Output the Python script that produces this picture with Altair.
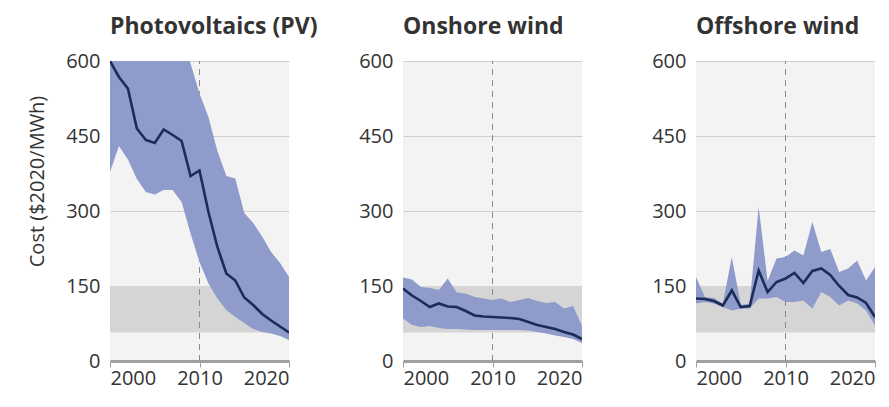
import altair as alt
import pandas as pd

YEARS = list(range(2000, 2021))
TITLES = ["Photovoltaics (PV)", "Onshore wind", "Offshore wind"]

PV_MID = [600, 568, 545, 465, 442, 436, 463, 452, 440, 370, 381, 298, 228, 175, 161, 127, 112, 94, 81, 69, 57]
PV_LOW = [378, 430, 403, 364, 338, 333, 342, 342, 318, 255, 198, 155, 125, 102, 88, 76, 64, 58, 55, 50, 42]
PV_HIGH = [700, 700, 700, 700, 700, 700, 700, 700, 645, 595, 535, 488, 420, 370, 365, 296, 276, 249, 218, 196, 168]

ON_MID = [145, 131, 120, 108, 115, 109, 108, 100, 91, 89, 88, 87, 86, 84, 78, 72, 68, 64, 58, 53, 44]
ON_LOW = [85, 72, 68, 70, 66, 64, 64, 63, 62, 62, 62, 62, 62, 62, 61, 58, 55, 51, 48, 44, 36]
ON_HIGH = [167, 163, 148, 146, 142, 165, 137, 135, 128, 125, 122, 125, 118, 122, 126, 120, 116, 118, 105, 110, 70]

OFF_MID = [125, 124, 120, 111, 141, 108, 110, 181, 138, 158, 165, 176, 156, 180, 185, 172, 150, 132, 127, 116, 88]
OFF_LOW = [115, 118, 115, 108, 101, 105, 105, 125, 125, 128, 118, 118, 121, 105, 138, 128, 111, 121, 115, 101, 71]
OFF_HIGH = [168, 128, 126, 115, 208, 112, 115, 308, 160, 205, 208, 221, 211, 278, 218, 224, 178, 185, 201, 161, 188]

BAND_RANGE = [57, 150]          # grey reference band
DIVIDER_YEAR = 2010
Y_TICKS = [0, 150, 300, 450, 600]
X_TICKS = [2000, 2010, 2020]
Y_TITLE = "Cost ($2020/MWh)"

BLUE = "#8e9bcb"
NAVY = "#1b2c58"
BAND_GREY = "#d5d5d5"
BG = "#f3f3f3"
TEXT = "#333333"
FONT = "Open Sans"


def panel(name, mid, low, high, first):
    df = pd.DataFrame({"year": YEARS, "mid": mid, "low": low, "high": high})
    band = pd.DataFrame({"x": [YEARS[0]], "x2": [YEARS[-1]],
                         "y": [BAND_RANGE[0]], "y2": [BAND_RANGE[1]]})
    rule = pd.DataFrame({"x": [DIVIDER_YEAR], "y": [Y_TICKS[0]], "y2": [Y_TICKS[-1]]})

    xscale = alt.Scale(domain=[YEARS[0], YEARS[-1]], nice=False, zero=False)
    yscale = alt.Scale(domain=[Y_TICKS[0], Y_TICKS[-1]], nice=False)
    xaxis = alt.Axis(values=X_TICKS, format="d", labelFlush=True, grid=False,
                     domainColor="#a0a0a0", domainWidth=3, tickColor="#a0a0a0",
                     tickSize=6, tickWidth=1, labelPadding=1, title=None)
    yaxis = alt.Axis(values=Y_TICKS, grid=True, gridColor="#cfcfcf", gridWidth=1,
                     domain=False, ticks=False, labelPadding=10,
                     title=Y_TITLE if first else None, titlePadding=18, titleY=120)

    x_enc = lambda f: alt.X(f, scale=xscale, axis=xaxis)
    y_enc = lambda f: alt.Y(f, scale=yscale, axis=yaxis)

    band_layer = alt.Chart(band).mark_rect(color=BAND_GREY).encode(
        x=x_enc("x:Q"), x2="x2:Q", y=y_enc("y:Q"), y2="y2:Q")
    rule_layer = alt.Chart(rule).mark_rule(color="#8a8a8a", strokeDash=[6, 5], strokeWidth=1).encode(
        x=x_enc("x:Q"), y=y_enc("y:Q"), y2="y2:Q")
    area_layer = alt.Chart(df).mark_area(color=BLUE, opacity=1, clip=True).encode(
        x=x_enc("year:Q"), y=y_enc("low:Q"), y2="high:Q")
    line_layer = alt.Chart(df).mark_line(color=NAVY, strokeWidth=2.6, clip=True).encode(
        x=x_enc("year:Q"), y=y_enc("mid:Q"))

    return alt.layer(band_layer, rule_layer, area_layer, line_layer).properties(
        width=179, height=300,
        title=alt.TitleParams(text=name, anchor="start", frame="group", fontSize=23,
                              fontWeight="bold", font=FONT, color=TEXT, offset=12))


p1 = panel(TITLES[0], PV_MID, PV_LOW, PV_HIGH, True)
p2 = panel(TITLES[1], ON_MID, ON_LOW, ON_HIGH, False)
p3 = panel(TITLES[2], OFF_MID, OFF_LOW, OFF_HIGH, False)

chart = alt.hconcat(p1, p2, p3, spacing=114, bounds="flush").properties(
    padding={"left": 19, "top": 8, "right": 5, "bottom": 5}
).configure_view(fill=BG, strokeWidth=0).configure_axis(
    labelFont=FONT, labelFontSize=20, labelColor=TEXT,
    titleFont=FONT, titleFontSize=20, titleColor=TEXT, titleFontWeight="normal"
)

chart.save("out.html", embed_options={"renderer": "svg", "actions": False})
